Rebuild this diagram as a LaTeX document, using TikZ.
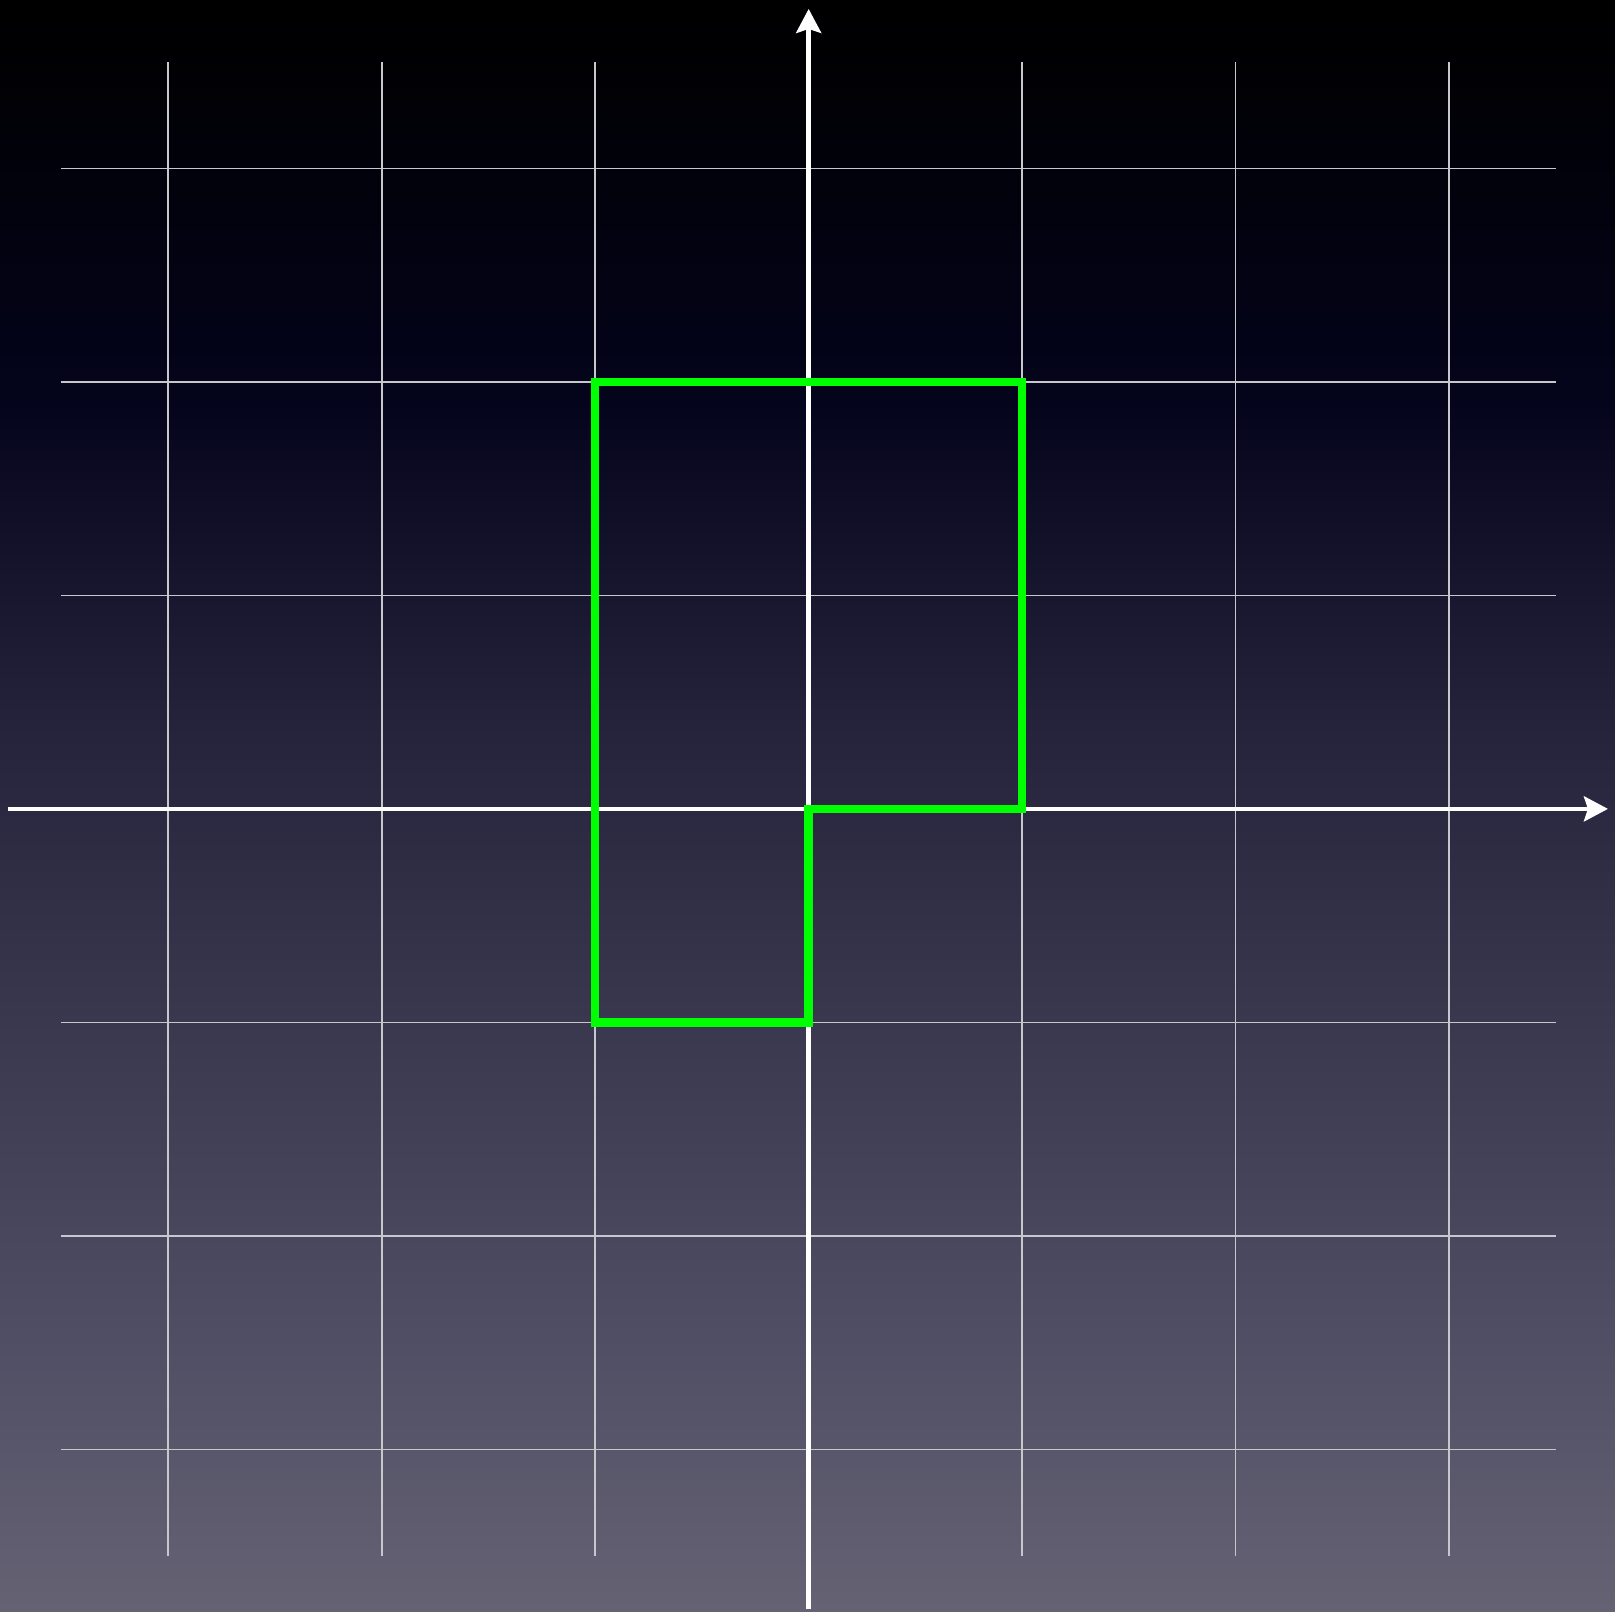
\documentclass[tikz,border=0pt]{standalone}
\usetikzlibrary{arrows.meta}
\definecolor{bgA}{HTML}{000000}
\definecolor{bgB}{HTML}{010108}
\definecolor{bgC}{HTML}{04041C}
\definecolor{bgD}{HTML}{24233B}
\definecolor{bgE}{HTML}{39384F}
\definecolor{bgF}{HTML}{4F4D63}
\definecolor{bgG}{HTML}{656274}
\definecolor{gridcol}{HTML}{C8C8CC}
\definecolor{shapegreen}{HTML}{00FF00}
\tikzset{
  gridline/.style={draw=gridcol, line width=1.6pt},
  axisline/.style={draw=white, line width=4.5pt, -{Stealth[length=24pt,width=25pt,inset=4pt]}},
  outline/.style={draw=shapegreen, line width=8.5pt, line join=miter},
}
\begin{document}
\begin{tikzpicture}[x=213.5pt,y=213.5pt]
\useasboundingbox (-3.788,-3.761) rectangle (3.777,3.789);
% background gradient bands (y in units; top = 3.789)
\fill[top color=bgA, bottom color=bgB] (-3.788,3.789) rectangle (3.777,3.2);
\fill[top color=bgB, bottom color=bgC] (-3.788,3.2) rectangle (3.777,1.9);
\fill[top color=bgC, bottom color=bgD] (-3.788,1.9) rectangle (3.777,0.4);
\fill[top color=bgD, bottom color=bgE] (-3.788,0.4) rectangle (3.777,-1.0);
\fill[top color=bgE, bottom color=bgF] (-3.788,-1.0) rectangle (3.777,-2.4);
\fill[top color=bgF, bottom color=bgG] (-3.788,-2.4) rectangle (3.777,-3.761);
% grid
\foreach \k in {-3,-2,-1,1,2,3}{
  \draw[gridline] (\k,-3.5) -- (\k,3.5);
  \draw[gridline] (-3.5,\k) -- (3.5,\k);
}
% axes
\coordinate (xstart) at (-3.750,0);
\coordinate (xend) at (3.744,0);
\coordinate (ystart) at (0,-3.747);
\coordinate (yend) at (0,3.747);
\draw[axisline] (xstart) -- (xend);
\draw[axisline] (ystart) -- (yend);
% green outline
\coordinate (p1) at (-1,2);
\coordinate (p2) at (1,2);
\coordinate (p3) at (1,0);
\coordinate (p4) at (0,0);
\coordinate (p5) at (0,-1);
\coordinate (p6) at (-1,-1);
\draw[outline] (p1) -- (p2) -- (p3) -- (p4) -- (p5) -- (p6) -- cycle;
\end{tikzpicture}
\end{document}
